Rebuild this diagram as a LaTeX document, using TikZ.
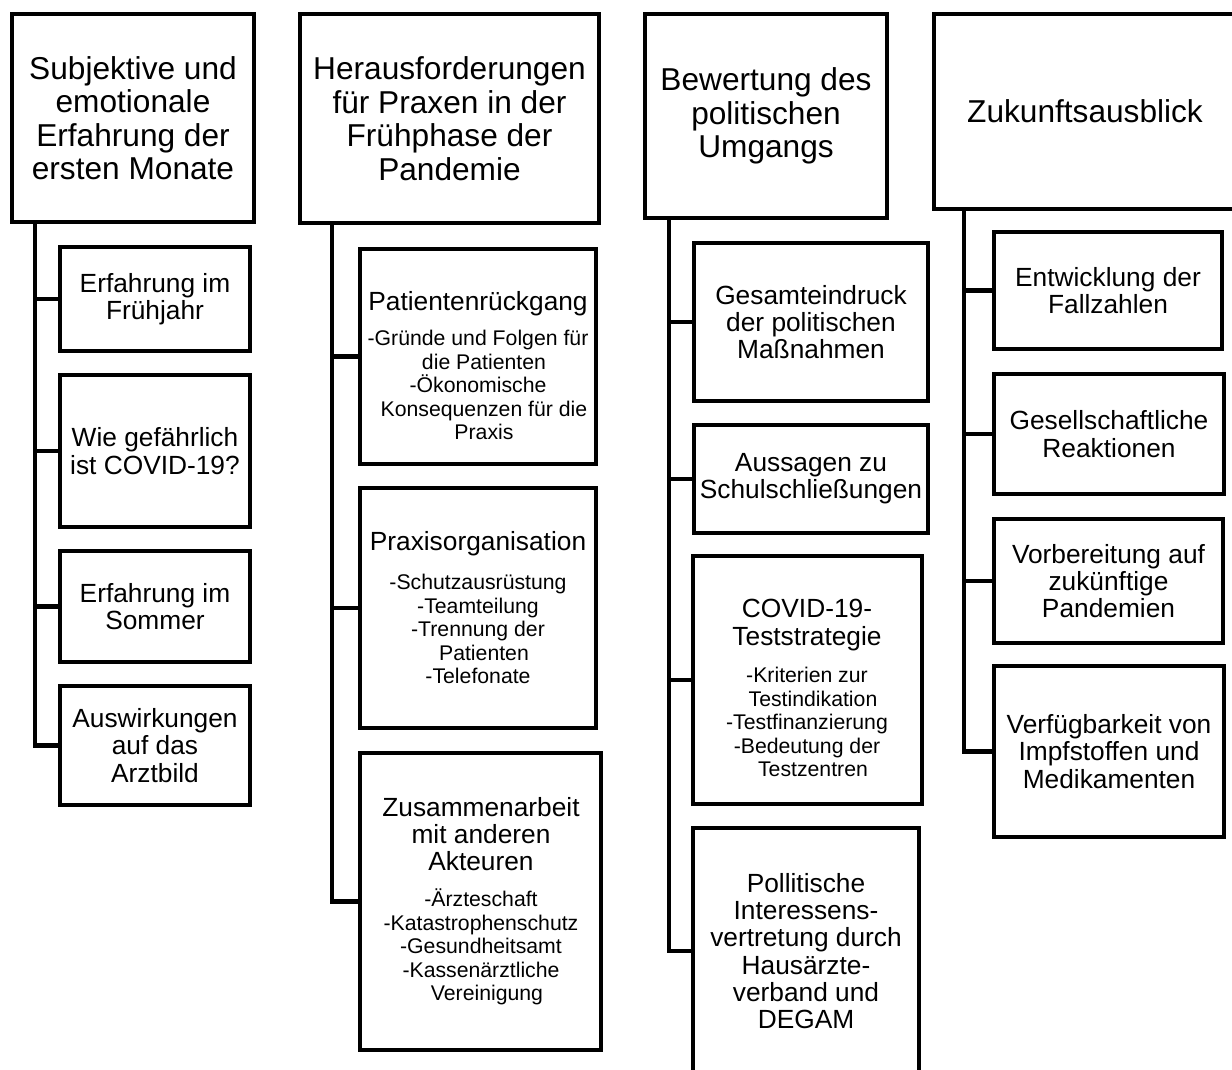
\documentclass[tikz,border=0pt]{standalone}
\usepackage{fontspec}
\setmainfont{Liberation Sans}
\usetikzlibrary{fit,positioning}
\newcommand\indline{\hspace*{8.5pt}}

\tikzset{
  box/.style={draw, line width=3.5pt, inner sep=0pt},
  headtxt/.style={font=\fontsize{22.5}{23.8}\selectfont, align=center, inner sep=0pt},
  subtxt/.style={font=\fontsize{18.7}{19.4}\selectfont, align=center, inner sep=0pt},
  itemtxt/.style={font=\fontsize{15.1}{16.7}\selectfont, align=center, inner sep=0pt},
  link/.style={line width=3.5pt}
}

\begin{document}
\begin{tikzpicture}[x=0.025cm, y=-0.025cm]
        \useasboundingbox (0,0) rectangle (1232,1070);
        \clip (0,0) rectangle (1232,1070);
        % first column
        \node[box, fit={(12,14) (254,222)}] (h1) {};
        \node[headtxt] (h1t) at (h1) {Subjektive und\\emotionale\\Erfahrung der\\ersten Monate};
        \node[box, fit={(60,247) (250,351)}] (a1) {};
        \node[subtxt] (a1t) at (a1) {Erfahrung im\\Frühjahr};
        \node[box, fit={(60,375) (250,527)}] (a2) {};
        \node[subtxt] (a2t) at (a2) {Wie gefährlich\\ist COVID-19?};
        \node[box, fit={(60,551) (250,662)}] (a3) {};
        \node[subtxt] (a3t) at (a3) {Erfahrung im\\Sommer};
        \node[box, fit={(60,686) (250,805)}] (a4) {};
        \node[subtxt] (a4t) at (a4) {Auswirkungen\\auf das\\Arztbild};
        % second column
        \node[box, fit={(300,14) (599,223)}] (h2) {};
        \node[headtxt] (h2t) at (h2) {Herausforderungen\\für Praxen in der\\Frühphase der\\Pandemie};
        \node[box, fit={(360,249) (596,464)}] (b1) {};
        \node[subtxt] (b1t) at (478,304) {Patientenrückgang};
        \node[itemtxt] (b1i) at (478,385) {-Gründe und Folgen für\\\indline die Patienten\\-Ökonomische\\\indline Konsequenzen für die\\\indline Praxis};
        \node[box, fit={(360,488) (596,728)}] (b2) {};
        \node[subtxt] (b2t) at (478,544) {Praxisorganisation};
        \node[itemtxt] (b2i) at (478,629) {-Schutzausrüstung\\-Teamteilung\\-Trennung der\\\indline Patienten\\-Telefonate};
        \node[box, fit={(360,753) (601,1050)}] (b3) {};
        \node[subtxt] (b3t) at (481,834) {Zusammenarbeit\\mit anderen\\Akteuren};
        \node[itemtxt] (b3i) at (481,947) {-Ärzteschaft\\-Katastrophenschutz\\-Gesundheitsamt\\-Kassenärztliche\\\indline Vereinigung};
        % third column
        \node[box, fit={(645,14) (887,218)}] (h3) {};
        \node[headtxt] (h3t) at (h3) {Bewertung des\\politischen\\Umgangs};
        \node[box, fit={(694,243) (928,401)}] (d1) {};
        \node[subtxt] (d1t) at (d1) {Gesamteindruck\\der politischen\\Maßnahmen};
        \node[box, fit={(694,425) (928,533)}] (d2) {};
        \node[subtxt] (d2t) at (d2) {Aussagen zu\\Schulschließungen};
        \node[box, fit={(693,556) (922,804)}] (d3) {};
        \node[subtxt] (d3t) at (807,625) {COVID-19-\\Teststrategie};
        \node[itemtxt] (d3i) at (807,722) {-Kriterien zur\\\indline Testindikation\\-Testfinanzierung\\-Bedeutung der\\\indline Testzentren};
        \node[box, fit={(693,828) (919,1074)}] (d4) {};
        \node[subtxt] (d4t) at (d4) {Pollitische\\Interessens-\\vertretung durch\\Hausärzte-\\verband und\\DEGAM};
        % fourth column
        \node[box, fit={(934,14) (1238,209)}] (h4) {};
        \node[headtxt] (h4t) at (1085,111) {Zukunftsausblick};
        \node[box, fit={(994,232) (1222,349)}] (e1) {};
        \node[subtxt] (e1t) at (e1) {Entwicklung der\\Fallzahlen};
        \node[box, fit={(994,374) (1224,494)}] (e2) {};
        \node[subtxt] (e2t) at (e2) {Gesellschaftliche\\Reaktionen};
        \node[box, fit={(994,519) (1223,643)}] (e3) {};
        \node[subtxt] (e3t) at (e3) {Vorbereitung auf\\zukünftige\\Pandemien};
        \node[box, fit={(994,666) (1224,837)}] (e4) {};
        \node[subtxt] (e4t) at (e4) {Verfügbarkeit von\\Impfstoffen und\\Medikamenten};
        % spines
        \coordinate (s1) at (h1.south -| 35,0);
        \coordinate (s2) at (h2.south -| 332,0);
        \coordinate (s3) at (h3.south -| 669,0);
        \coordinate (s4) at (h4.south -| 964,0);
        \foreach \c in {a1,a2,a3,a4} \draw[link] (s1) |- (\c.west);
        \foreach \c in {b1,b2,b3} \draw[link] (s2) |- (\c.west);
        \foreach \c in {d1,d2,d3,d4} \draw[link] (s3) |- (\c.west);
        \foreach \c in {e1,e2,e3,e4} \draw[link] (s4) |- (\c.west);
\end{tikzpicture}
\end{document}
